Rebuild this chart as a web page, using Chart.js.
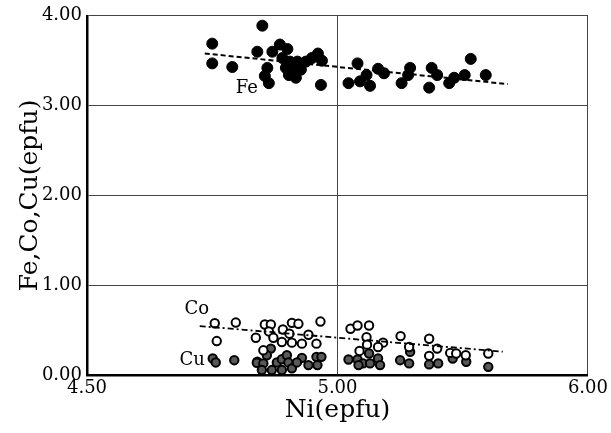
<!DOCTYPE html>
<html><head><meta charset="utf-8">
<script src="https://cdn.jsdelivr.net/npm/chart.js@4/dist/chart.umd.min.js"></script>
<style>html,body{margin:0;padding:0;background:#fff}#wrap{width:611px;height:433px}</style>
</head><body><div id="wrap"><canvas id="c"></canvas></div>
<script>
// Fe vs Ni
const feNi  = [4.85,4.75,4.75,4.79,4.84,4.87,4.885,4.90,4.86,4.855,4.863,4.89,4.905,4.92,4.897,4.913,4.927,4.903,4.917,4.937,4.949,4.961,4.969,4.967,
               5.04,5.022,5.045,5.058,5.065,5.081,5.093,5.128,5.145,5.141,5.188,5.183,5.199,5.223,5.233,5.254,5.266,5.296];
const feVal = [3.89,3.69,3.47,3.43,3.60,3.60,3.68,3.63,3.42,3.33,3.25,3.53,3.49,3.49,3.42,3.40,3.40,3.34,3.31,3.49,3.53,3.58,3.50,3.23,
               3.47,3.25,3.27,3.34,3.22,3.41,3.36,3.25,3.42,3.34,3.42,3.20,3.34,3.25,3.31,3.34,3.52,3.34];
// Co vs Ni
const coNi  = [4.755,4.797,4.759,
               4.855,4.867,4.909,4.922,4.966,4.891,4.863,4.837,4.872,4.904,4.942,4.909,4.929,4.958,4.889,4.852,
               5.026,5.040,5.063,5.058,5.059,5.044,5.091,5.081,5.126,5.143,5.183,5.183,5.199,5.225,5.237,5.256,5.301];
const coVal = [0.576,0.584,0.378,
               0.562,0.562,0.581,0.570,0.595,0.507,0.485,0.415,0.415,0.460,0.448,0.360,0.349,0.349,0.367,0.275,
               0.515,0.551,0.551,0.422,0.338,0.268,0.360,0.312,0.433,0.312,0.404,0.213,0.294,0.246,0.239,0.220,0.239];
// Cu vs Ni
const cuNi  = [4.751,4.757,4.794,4.840,
               4.867,4.859,4.839,4.852,4.849,4.869,4.889,4.879,4.889,4.899,4.902,4.909,4.929,4.919,4.942,4.958,4.968,4.960,
               5.022,5.040,5.063,5.051,5.065,5.081,5.085,5.042,5.125,5.145,5.143,5.183,5.201,5.230,5.257,5.301];
const cuVal = [0.184,0.140,0.165,0.147,
               0.294,0.220,0.136,0.129,0.055,0.055,0.055,0.140,0.176,0.220,0.140,0.074,0.191,0.140,0.110,0.202,0.202,0.110,
               0.173,0.173,0.239,0.129,0.129,0.184,0.110,0.110,0.165,0.257,0.129,0.118,0.129,0.184,0.147,0.091];
// Trend lines (end points)
const feTrendNi = [4.735, 5.34];
const feTrendVal = [3.58, 3.24];
const coTrendNi = [4.725, 5.33];
const coTrendVal = [0.545, 0.26];
// Ticks (the right-hand tick is printed "6.00" in the source figure)
const xTickValues = [4.5, 5.0, 5.5];
const xTickLabels = ['4.50', '5.00', '6.00'];
const yTickValues = [0, 1, 2, 3, 4];
const yTickLabels = ['0.00', '1.00', '2.00', '3.00', '4.00'];
// Series labels
const seriesLabels = ['Fe', 'Co', 'Cu'];
const labelNi  = [4.819, 4.719, 4.71];
const labelVal = [3.196, 0.727, 0.165];

const pts = (xs, ys) => xs.map((x, i) => ({x, y: ys[i]}));
const SERIF = "'DejaVu Serif', serif";

const labelPlugin = {
  id: 'seriesLabels',
  afterDatasetsDraw(chart) {
    const {ctx, scales: {x, y}} = chart;
    ctx.save();
    ctx.fillStyle = '#000';
    ctx.font = "18px " + SERIF;
    ctx.textAlign = 'center';
    ctx.textBaseline = 'middle';
    seriesLabels.forEach((t, i) => {
      ctx.fillText(t, x.getPixelForValue(labelNi[i]), y.getPixelForValue(labelVal[i]));
    });
    ctx.restore();
  }
};

new Chart(document.getElementById('c'), {
  type: 'scatter',
  data: {
    datasets: [
      {label: 'Fe trend', type: 'line', data: pts(feTrendNi, feTrendVal), borderColor: '#000', borderWidth: 2,
       borderDash: [5, 3], pointRadius: 0, fill: false, clip: false},
      {label: 'Co trend', type: 'line', data: pts(coTrendNi, coTrendVal), borderColor: '#000', borderWidth: 1.8,
       borderDash: [6, 3, 2, 3], pointRadius: 0, fill: false, clip: false},
      {label: 'Fe', data: pts(feNi, feVal), backgroundColor: '#000', borderColor: '#000', borderWidth: 1,
       pointRadius: 5.5, clip: false},
      {label: 'Co', data: pts(coNi, coVal), backgroundColor: '#fff', borderColor: '#000', borderWidth: 2,
       pointRadius: 4.2, clip: false},
      {label: 'Cu', data: pts(cuNi, cuVal), backgroundColor: '#595959', borderColor: '#000', borderWidth: 2,
       pointRadius: 4.2, clip: false}
    ]
  },
  options: {
    responsive: true, maintainAspectRatio: false, animation: false,
    layout: {padding: {top: 12, right: 23, left: 0, bottom: 0}},
    plugins: {legend: {display: false}, tooltip: {enabled: false}},
    scales: {
      x: {
        type: 'linear', min: xTickValues[0], max: xTickValues[xTickValues.length - 1],
        afterBuildTicks: s => { s.ticks = xTickValues.map(v => ({value: v})); },
        afterFit: s => { s.height = 58; },
        ticks: {font: {family: SERIF, size: 18}, color: '#000', padding: 3, maxRotation: 0, autoSkip: false,
                callback: (v, i) => xTickLabels[i]},
        grid: {drawTicks: false, lineWidth: 1,
               color: c => (c.tick && c.tick.value === xTickValues[0]) ? 'rgba(0,0,0,0)' : '#444'},
        border: {color: '#000', width: 2.5},
        title: {display: true, text: 'Ni(epfu)', color: '#000', font: {family: SERIF, size: 25},
                padding: {top: 0, bottom: 8}}
      },
      y: {
        type: 'linear', min: 0, max: 4,
        afterBuildTicks: s => { s.ticks = yTickValues.map(v => ({value: v})); },
        afterFit: s => { s.width = 87; },
        ticks: {font: {family: SERIF, size: 18}, color: '#000', padding: 5,
                callback: (v, i) => yTickLabels[i]},
        grid: {drawTicks: false, lineWidth: 1,
               color: c => (c.tick && c.tick.value === 0) ? 'rgba(0,0,0,0)' : '#444'},
        border: {color: '#000', width: 2.5},
        title: {display: true, text: 'Fe,Co,Cu(epfu)', color: '#000', font: {family: SERIF, size: 25},
                padding: {top: 15, bottom: 0}}
      }
    }
  },
  plugins: [labelPlugin]
});
</script>
</body></html>
